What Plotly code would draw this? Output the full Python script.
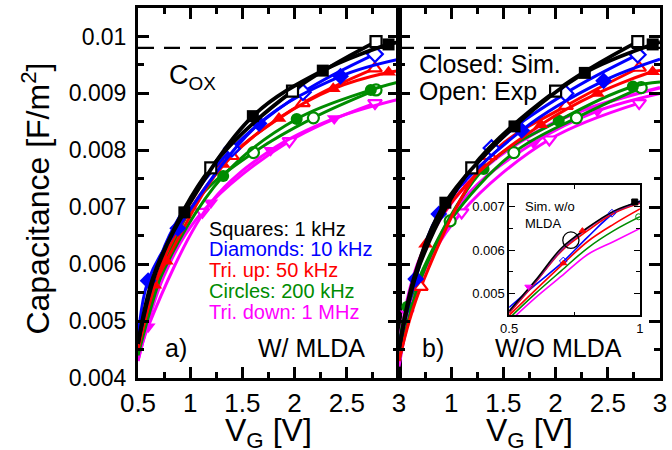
import plotly.graph_objects as go

# ---------------- data (V_G in volts, capacitance in F/m^2) ----------------
# Panel a) W/ MLDA -- simulation (closed markers) and experiment (open markers)
a_sq_sim_v = [0.944, 1.6, 2.27, 2.9];        a_sq_sim_c = [0.00691, 0.0086, 0.0094, 0.00986]
a_sq_sim_xv = [0.5, 0.65, 3.0];              a_sq_sim_xc = [0.0046, 0.0058, 0.0099]
a_sq_exp_v = [1.197, 1.98, 2.78];            a_sq_exp_c = [0.00769, 0.00904, 0.00991]
a_sq_exp_xv = [0.5, 0.7];                    a_sq_exp_xc = [0.0046, 0.0060]

a_di_sim_v = [0.597, 0.881, 1.66, 2.44];     a_di_sim_c = [0.00571, 0.00663, 0.00847, 0.0093]
a_di_sim_xv = [0.5, 3.0];                    a_di_sim_xc = [0.0047, 0.0096]
a_di_exp_v = [1.40, 2.08, 2.77];             a_di_exp_c = [0.00803, 0.00902, 0.00969]
a_di_exp_xv = [0.5, 0.8];                    a_di_exp_xc = [0.0046, 0.0065]

a_tu_sim_v = [0.66, 0.771, 1.316, 1.85, 2.37, 2.9]
a_tu_sim_c = [0.00563, 0.00605, 0.00775, 0.00856, 0.00908, 0.00937]
a_tu_sim_xv = [0.5, 3.0];                    a_tu_sim_xc = [0.0045, 0.0094]
a_tu_exp_v = [1.40, 2.08, 2.77];             a_tu_exp_c = [0.0079, 0.00883, 0.00944]
a_tu_exp_xv = [0.5, 0.8];                    a_tu_exp_xc = [0.0045, 0.0063]

a_ci_sim_v = [1.316, 2.02, 2.73];            a_ci_sim_c = [0.00755, 0.00855, 0.00906]
a_ci_sim_xv = [0.5, 0.7, 3.0];               a_ci_sim_xc = [0.0044, 0.0057, 0.0092]
a_ci_exp_v = [1.606, 2.18, 2.78];            a_ci_exp_c = [0.00796, 0.00857, 0.00906]
a_ci_exp_xv = [0.5, 0.8, 1.1];               a_ci_exp_xc = [0.0044, 0.0062, 0.0072]

a_td_sim_v = [0.597, 1.197, 1.77, 2.38];     a_td_sim_c = [0.0049, 0.00708, 0.008, 0.00856]
a_td_sim_xv = [0.5, 3.0];                    a_td_sim_xc = [0.0043, 0.0089]
a_td_exp_v = [1.117, 1.95, 2.77];            a_td_exp_c = [0.00692, 0.00816, 0.00883]
a_td_exp_xv = [0.5, 0.75];                   a_td_exp_xc = [0.0043, 0.0058]

# Panel b) W/O MLDA
b_sq_sim_v = [0.944, 1.606, 2.28, 2.93];     b_sq_sim_c = [0.00708, 0.00842, 0.00936, 0.00986]
b_sq_sim_xv = [0.5, 0.65, 3.0];              b_sq_sim_xc = [0.0045, 0.0058, 0.0099]
b_sq_exp_v = [1.197, 2.0, 2.787];            b_sq_exp_c = [0.00769, 0.00904, 0.00991]
b_sq_exp_xv = [0.5, 0.7];                    b_sq_exp_xc = [0.0045, 0.0060]

b_di_sim_v = [0.66, 0.881, 1.675, 2.46];     b_di_sim_c = [0.00574, 0.00688, 0.00835, 0.00922]
b_di_sim_xv = [0.5, 3.0];                    b_di_sim_xc = [0.0046, 0.0096]
b_di_exp_v = [1.386, 2.095, 2.787];          b_di_exp_c = [0.00804, 0.009, 0.00968]
b_di_exp_xv = [0.5, 0.8];                    b_di_exp_xc = [0.0045, 0.0065]

b_tu_sim_v = [0.755, 1.86, 2.40, 2.93];      b_tu_sim_c = [0.00635, 0.00845, 0.009, 0.00938]
b_tu_sim_xv = [0.5, 1.2, 3.0];               b_tu_sim_xc = [0.0045, 0.0075, 0.0094]
b_tu_exp_v = [0.71, 1.37, 2.10, 2.80];       b_tu_exp_c = [0.0056, 0.0079, 0.00878, 0.00945]
b_tu_exp_xv = [0.5];                         b_tu_exp_xc = [0.0043]

b_ci_sim_v = [0.58, 1.31, 2.03, 2.74];       b_ci_sim_c = [0.00525, 0.00767, 0.00852, 0.00912]
b_ci_sim_xv = [0.5, 3.0];                    b_ci_sim_xc = [0.0045, 0.0092]
b_ci_exp_v = [0.99, 1.6, 2.2, 2.82];         b_ci_exp_c = [0.00676, 0.00796, 0.00857, 0.0091]
b_ci_exp_xv = [0.5, 0.7];                    b_ci_exp_xc = [0.0043, 0.0057]

b_td_sim_v = [0.58, 1.79, 2.40];             b_td_sim_c = [0.00513, 0.00813, 0.00869]
b_td_sim_xv = [0.5, 1.1, 3.0];               b_td_sim_xc = [0.0043, 0.0071, 0.0090]
b_td_exp_v = [1.10, 1.94, 2.80];             b_td_exp_c = [0.00691, 0.00819, 0.00883]
b_td_exp_xv = [0.5, 0.7];                    b_td_exp_xc = [0.0042, 0.0057]
b_td_sim2_v = [1.15];                        b_td_sim2_c = [0.0074]
b_td_sim2_xv = [0.5, 0.7, 2.0, 3.0];         b_td_sim2_xc = [0.0046, 0.0061, 0.0085, 0.0091]

# Inset: simulation w/o MLDA, V_G 0.5 .. 1
in_v = [0.5, 0.6, 0.7, 0.8, 0.9, 1.0]
in_black = [0.0046, 0.0053, 0.00605, 0.00652, 0.0069, 0.00712]
in_purple = [0.00458, 0.00527, 0.006, 0.0065, 0.00688, 0.0071]
in_red_top = [0.00455, 0.00525, 0.00598, 0.00645, 0.00685, 0.00708]
in_blue = [0.00468, 0.0052, 0.0057, 0.0063, 0.00685, 0.00713]
in_red = [0.0045, 0.00508, 0.00565, 0.0062, 0.0066, 0.00695]
in_green = [0.00443, 0.005, 0.00553, 0.00605, 0.00645, 0.00677]
in_magenta = [0.00435, 0.0049, 0.0054, 0.0059, 0.0062, 0.0065]
# inset markers
in_mk_black = ([0.98], [0.00711])
in_mk_blue = ([0.893, 0.707], [0.00685, 0.00575])
in_mk_red = ([0.78, 0.707], [0.00645, 0.0057])
in_mk_magenta = ([0.573], [0.00516])
in_mk_green = ([0.995], [0.00677])
circle_v, circle_c = 0.736, 0.00623

# axis ticks
y_ticks = [0.004, 0.005, 0.006, 0.007, 0.008, 0.009, 0.01]
y_ticktext = ["0.004", "0.005", "0.006", "0.007", "0.008", "0.009", "0.01"]
xa_ticks = [0.5, 1, 1.5, 2, 2.5, 3]
xa_ticktext = ["0.5", "1", "1.5", "2", "2.5", "3"]
xb_ticks = [1, 1.5, 2, 2.5, 3]
xb_ticktext = ["1", "1.5", "2", "2.5", "3"]
in_yticks = [0.005, 0.006, 0.007]
in_yticktext = ["0.005", "0.006", "0.007"]
in_xticks = [0.5, 1]
in_xticktext = ["0.5", "1"]
cox = 0.0098

legend_lines = ["Squares: 1 kHz", "Diamonds: 10 kHz", "Tri. up: 50 kHz",
                "Circles: 200 kHz", "Tri. down: 1 MHz"]

BLACK, BLUE, RED, GREEN, MAG = "#000000", "#0000ff", "#ff0000", "#008c00", "#ff00ff"
PURPLE = "#8a1a8a"
FONT = "Liberation Sans, Arial, sans-serif"

fig = go.Figure()


def add_curve(mv, mc, xv, xc, color, symbol, filled, xa, ya, lw=3.0, msize=11):
    pts = sorted(zip(list(mv) + list(xv), list(mc) + list(xc)))
    fig.add_trace(go.Scatter(x=[p[0] for p in pts], y=[p[1] for p in pts], mode="lines",
                             line=dict(color=color, width=lw, shape="spline", smoothing=1.0),
                             xaxis=xa, yaxis=ya, showlegend=False, hoverinfo="skip"))
    fig.add_trace(go.Scatter(x=mv, y=mc, mode="markers",
                             marker=dict(symbol=symbol, color=color if filled else "white",
                                         size=msize if filled else msize - 1,
                                         line=dict(color=color, width=0 if filled else 2.2)),
                             xaxis=xa, yaxis=ya, showlegend=False, hoverinfo="skip"))


def add_series(sim, exp, color, symbol, xa, ya, lw=3.0, msize=11):
    add_curve(*exp, color, symbol, False, xa, ya, lw, msize)
    add_curve(*sim, color, symbol, True, xa, ya, lw, msize)


# panel a
add_series((a_td_sim_v, a_td_sim_c, a_td_sim_xv, a_td_sim_xc), (a_td_exp_v, a_td_exp_c, a_td_exp_xv, a_td_exp_xc), MAG, "triangle-down", "x", "y", msize=13)
add_series((a_ci_sim_v, a_ci_sim_c, a_ci_sim_xv, a_ci_sim_xc), (a_ci_exp_v, a_ci_exp_c, a_ci_exp_xv, a_ci_exp_xc), GREEN, "circle", "x", "y", msize=12)
add_series((a_tu_sim_v, a_tu_sim_c, a_tu_sim_xv, a_tu_sim_xc), (a_tu_exp_v, a_tu_exp_c, a_tu_exp_xv, a_tu_exp_xc), RED, "triangle-up", "x", "y", msize=13)
add_series((a_di_sim_v, a_di_sim_c, a_di_sim_xv, a_di_sim_xc), (a_di_exp_v, a_di_exp_c, a_di_exp_xv, a_di_exp_xc), BLUE, "diamond", "x", "y", msize=13)
add_series((a_sq_sim_v, a_sq_sim_c, a_sq_sim_xv, a_sq_sim_xc), (a_sq_exp_v, a_sq_exp_c, a_sq_exp_xv, a_sq_exp_xc), BLACK, "square", "x", "y", lw=3.8, msize=12)

# panel b
add_curve(b_td_sim2_v, b_td_sim2_c, b_td_sim2_xv, b_td_sim2_xc, MAG, "triangle-down", True, "x2", "y2", 3.5, 13)
add_series((b_td_sim_v, b_td_sim_c, b_td_sim_xv, b_td_sim_xc), (b_td_exp_v, b_td_exp_c, b_td_exp_xv, b_td_exp_xc), MAG, "triangle-down", "x2", "y2", msize=13)
add_series((b_ci_sim_v, b_ci_sim_c, b_ci_sim_xv, b_ci_sim_xc), (b_ci_exp_v, b_ci_exp_c, b_ci_exp_xv, b_ci_exp_xc), GREEN, "circle", "x2", "y2", msize=12)
add_series((b_tu_sim_v, b_tu_sim_c, b_tu_sim_xv, b_tu_sim_xc), (b_tu_exp_v, b_tu_exp_c, b_tu_exp_xv, b_tu_exp_xc), RED, "triangle-up", "x2", "y2", msize=13)
add_series((b_di_sim_v, b_di_sim_c, b_di_sim_xv, b_di_sim_xc), (b_di_exp_v, b_di_exp_c, b_di_exp_xv, b_di_exp_xc), BLUE, "diamond", "x2", "y2", msize=13)
add_series((b_sq_sim_v, b_sq_sim_c, b_sq_sim_xv, b_sq_sim_xc), (b_sq_exp_v, b_sq_exp_c, b_sq_exp_xv, b_sq_exp_xc), BLACK, "square", "x2", "y2", lw=3.8, msize=12)

# inset
for c, col in [(in_magenta, MAG), (in_green, GREEN), (in_red, RED), (in_blue, BLUE),
               (in_red_top, RED), (in_purple, PURPLE), (in_black, BLACK)]:
    fig.add_trace(go.Scatter(x=in_v, y=c, mode="lines",
                             line=dict(color=col, width=1.6, shape="spline"),
                             xaxis="x3", yaxis="y3", showlegend=False, hoverinfo="skip"))
for (mv, mc), col, sym in [(in_mk_black, BLACK, "square"), (in_mk_blue, BLUE, "diamond-open"),
                           (in_mk_red, RED, "triangle-up"), (in_mk_magenta, MAG, "triangle-down"),
                           (in_mk_green, GREEN, "circle-open")]:
    fig.add_trace(go.Scatter(x=mv, y=mc, mode="markers",
                             marker=dict(symbol=sym, color=col, size=6, line=dict(color=col, width=1)),
                             xaxis="x3", yaxis="y3", showlegend=False, hoverinfo="skip"))

main_axis = dict(showline=True, linewidth=3, linecolor="black", mirror="ticks",
                 ticks="inside", ticklen=11, tickwidth=2.5, tickcolor="black",
                 showgrid=False, zeroline=False)
xfont = dict(family=FONT, size=26, color="black")
yfont = dict(family=FONT, size=23, color="black")

fig.update_layout(
    width=672, height=450,
    margin=dict(l=138, r=5, t=6, b=72),
    paper_bgcolor="white", plot_bgcolor="white",
    font=dict(family=FONT, color="black"),
    xaxis=dict(domain=[0, 0.5], range=[0.5, 3], anchor="y", tickmode="array",
               tickvals=xa_ticks, ticktext=xa_ticktext, tickfont=xfont, ticklabelstandoff=0,
               minor=dict(ticks="inside", ticklen=6, tickwidth=2.5, tickcolor="black",
                          tickmode="linear", tick0=0.5, dtick=0.25), **main_axis),
    xaxis2=dict(domain=[0.5, 1], range=[0.5, 3], anchor="y2", tickmode="array",
                tickvals=xb_ticks, ticktext=xb_ticktext, tickfont=xfont, ticklabelstandoff=0,
                minor=dict(ticks="inside", ticklen=6, tickwidth=2.5, tickcolor="black",
                           tickmode="linear", tick0=0.5, dtick=0.25), **main_axis),
    yaxis=dict(domain=[0, 1], range=[0.004, 0.0105], anchor="x", tickmode="array",
               tickvals=y_ticks, ticktext=y_ticktext, tickfont=yfont, ticklabelstandoff=4,
               minor=dict(ticks="inside", ticklen=6, tickwidth=2.5, tickcolor="black",
                          tickmode="linear", tick0=0.004, dtick=0.0005), **main_axis),
    yaxis2=dict(domain=[0, 1], range=[0.004, 0.0105], anchor="x2", matches="y",
                tickmode="array", tickvals=y_ticks, showticklabels=False,
                minor=dict(ticks="inside", ticklen=6, tickwidth=2.5, tickcolor="black",
                           tickmode="linear", tick0=0.004, dtick=0.0005), **main_axis),
    xaxis3=dict(domain=[0.711, 0.9616], range=[0.5, 1], anchor="y3", tickmode="array",
                tickvals=in_xticks, ticktext=in_xticktext,
                tickfont=dict(family=FONT, size=13, color="black"),
                showline=True, linewidth=1.5, linecolor="black", mirror="ticks",
                ticks="inside", ticklen=6, tickwidth=1.3, tickcolor="black",
                minor=dict(ticks="inside", ticklen=4, tickwidth=1.3, tickcolor="black",
                           tickmode="linear", tick0=0.5, dtick=0.25),
                showgrid=False, zeroline=False),
    yaxis3=dict(domain=[0.1694, 0.5215], range=[0.0045, 0.0075], anchor="x3", tickmode="array",
                tickvals=in_yticks, ticktext=in_yticktext,
                tickfont=dict(family=FONT, size=13, color="black"),
                showline=True, linewidth=1.5, linecolor="black", mirror="ticks",
                ticks="inside", ticklen=6, tickwidth=1.3, tickcolor="black",
                minor=dict(ticks="inside", ticklen=4, tickwidth=1.3, tickcolor="black",
                           tickmode="linear", tick0=0.0045, dtick=0.0005),
                showgrid=False, zeroline=False),
)

# C_ox dashed line across both panels
fig.add_shape(type="line", xref="paper", yref="y", x0=0, x1=1, y0=cox, y1=cox,
              line=dict(color="black", width=2.2, dash="16px,10px"))
# circle in inset
fig.add_shape(type="circle", xref="x3", yref="y3",
              x0=circle_v - 0.031, x1=circle_v + 0.031,
              y0=circle_c - 0.00019, y1=circle_c + 0.00019,
              line=dict(color="black", width=1.3))

ann = []
ann.append(dict(text="Capacitance [F/m<sup>2</sup>]", xref="paper", yref="paper", x=-0.196, y=0.484,
                textangle=-90, showarrow=False, xanchor="center", yanchor="middle",
                font=dict(family=FONT, size=32, color="black")))
for xp in (0.25, 0.75):
    ann.append(dict(text="V<sub>G</sub> [V]", xref="paper", yref="paper", x=xp, y=-0.146,
                    showarrow=False, xanchor="center", yanchor="middle",
                    font=dict(family=FONT, size=32, color="black")))
ann.append(dict(text="C<sub>OX</sub>", xref="x", yref="y", x=0.774, y=0.00928, showarrow=False,
                xanchor="left", yanchor="middle", font=dict(family=FONT, size=27, color="black")))
ann.append(dict(text="Closed: Sim.", xref="x2", yref="y2", x=0.677, y=0.009524, showarrow=False,
                xanchor="left", yanchor="middle", font=dict(family=FONT, size=25, color="black")))
ann.append(dict(text="Open: Exp", xref="x2", yref="y2", x=0.677, y=0.009035, showarrow=False,
                xanchor="left", yanchor="middle", font=dict(family=FONT, size=25, color="black")))
leg_y = [0.006622, 0.006273, 0.005906, 0.005521, 0.005154]
for txt, col, yy in zip(legend_lines, [BLACK, BLUE, RED, GREEN, MAG], leg_y):
    ann.append(dict(text=txt, xref="x", yref="y", x=1.162, y=yy, showarrow=False,
                    xanchor="left", yanchor="middle", font=dict(family=FONT, size=20, color=col)))
ann.append(dict(text="a)", xref="x", yref="y", x=0.744, y=0.004524, showarrow=False,
                xanchor="left", yanchor="middle", font=dict(family=FONT, size=25, color="black")))
ann.append(dict(text="W/ MLDA", xref="x", yref="y", x=2.693, y=0.004524, showarrow=False,
                xanchor="right", yanchor="middle", font=dict(family=FONT, size=25, color="black")))
ann.append(dict(text="b)", xref="x2", yref="y2", x=0.705, y=0.004524, showarrow=False,
                xanchor="left", yanchor="middle", font=dict(family=FONT, size=25, color="black")))
ann.append(dict(text="W/O MLDA", xref="x2", yref="y2", x=2.655, y=0.004524, showarrow=False,
                xanchor="right", yanchor="middle", font=dict(family=FONT, size=25, color="black")))
ann.append(dict(text="Sim. w/o<br>MLDA", xref="x3", yref="y3", x=0.553, y=0.0068, showarrow=False,
                xanchor="left", yanchor="middle", align="left",
                font=dict(family=FONT, size=13, color="black")))
fig.update_layout(annotations=ann)

fig.write_html("out.html", config={"displayModeBar": False},
               post_script="document.body.style.margin='0';document.body.style.overflow='hidden';")
